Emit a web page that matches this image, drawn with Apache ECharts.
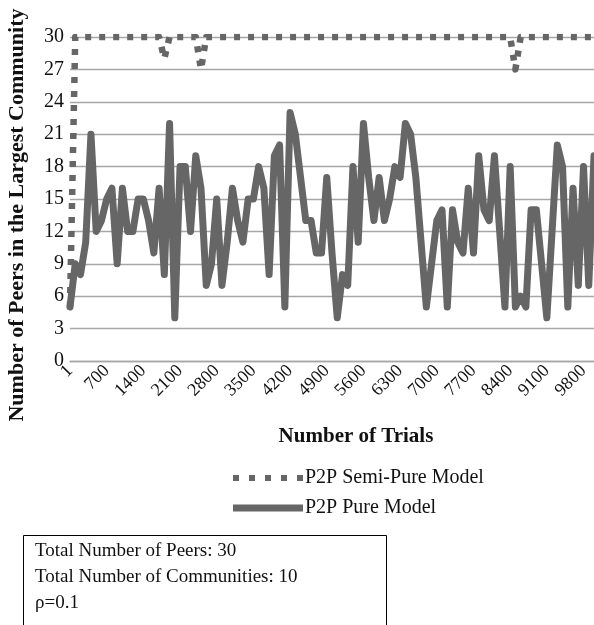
<!DOCTYPE html>
<html><head><meta charset="utf-8">
<script src="https://cdn.jsdelivr.net/npm/echarts@6/dist/echarts.min.js"></script>
<style>html,body{margin:0;padding:0;background:#fff}#c{width:594px;height:625px}</style>
</head><body><div id="c"></div>
<script>
// Number of trials (categories)
const trials = ['1','100','200','300','400','500','600','700','800','900',
  '1000','1100','1200','1300','1400','1500','1600','1700','1800','1900',
  '2000','2100','2200','2300','2400','2500','2600','2700','2800','2900',
  '3000','3100','3200','3300','3400','3500','3600','3700','3800','3900',
  '4000','4100','4200','4300','4400','4500','4600','4700','4800','4900',
  '5000','5100','5200','5300','5400','5500','5600','5700','5800','5900',
  '6000','6100','6200','6300','6400','6500','6600','6700','6800','6900',
  '7000','7100','7200','7300','7400','7500','7600','7700','7800','7900',
  '8000','8100','8200','8300','8400','8500','8600','8700','8800','8900',
  '9000','9100','9200','9300','9400','9500','9600','9700','9800','9900','10000'];

// P2P Semi-Pure Model
const semiPure = [5,30,30,30,30,30,30,30,30,30,
  30,30,30,30,30,30,30,30,28,30,
  30,30,30,30,30,27,30,30,30,30,
  30,30,30,30,30,30,30,30,30,30,
  30,30,30,30,30,30,30,30,30,30,
  30,30,30,30,30,30,30,30,30,30,
  30,30,30,30,30,30,30,30,30,30,
  30,30,30,30,30,30,30,30,30,30,
  30,30,30,30,30,27,30,30,30,30,
  30,30,30,30,30,30,30,30,30,30,30];

// P2P Pure Model
const pure = [5,9,8,11,21,12,13,15,16,9,
  16,12,12,15,15,13,10,16,8,22,
  4,18,18,12,19,16,7,9,15,7,
  11,16,13,11,15,15,18,16,8,19,
  20,5,23,21,17,13,13,10,10,17,
  10,4,8,7,18,11,22,17,13,17,
  13,15,18,17,22,21,17,11,5,9,
  13,14,5,14,11,10,16,10,19,14,
  13,19,12,5,18,5,6,5,14,14,
  9,4,12,20,18,5,16,7,18,7,19];

const seriesNames = ['P2P Semi-Pure Model', 'P2P Pure Model'];
const xTitle = 'Number of Trials';
const yTitle = 'Number of Peers in the Largest Community';
const infoLines = ['Total Number of Peers: 30', 'Total Number of Communities: 10', 'ρ=0.1'];

const SERIF = '"Liberation Serif", "Times New Roman", serif';
const GRAY = '#666666';
const chart = echarts.init(document.getElementById('c'), null, {renderer: 'canvas'});
chart.setOption({
  animation: false,
  backgroundColor: '#fff',
  grid: {left: 70, right: 0, top: 37, bottom: 264, containLabel: false},
  xAxis: {
    type: 'category', data: trials, boundaryGap: false,
    axisLine: {show: true, lineStyle: {color: '#a6a6a6', width: 1.3}},
    axisTick: {show: false},
    axisLabel: {interval: 6, rotate: 45, fontFamily: SERIF, fontSize: 18, color: '#111', margin: 7},
    splitLine: {show: false}
  },
  yAxis: {
    type: 'value', min: 0, max: 30, interval: 3,
    axisLine: {show: false}, axisTick: {show: false},
    axisLabel: {fontFamily: SERIF, fontSize: 20, color: '#111', margin: 6},
    splitLine: {lineStyle: {color: '#a6a6a6', width: 1.3}}
  },
  legend: {
    orient: 'vertical', left: 228, top: 463, itemWidth: 70, itemGap: 10,
    data: [
      {name: seriesNames[0], icon: 'path://M0,0h6v6h-6z M16,0h6v6h-6z M32,0h6v6h-6z M48,0h6v6h-6z M64,0h6v6h-6z',
       itemStyle: {color: GRAY}},
      {name: seriesNames[1], icon: 'rect', itemStyle: {color: GRAY}}
    ],
    itemHeight: 7,
    textStyle: {fontFamily: SERIF, fontSize: 20, color: '#111', padding: [0,0,0,-3]}
  },
  series: [
    {name: seriesNames[0], type: 'line', data: semiPure, symbol: 'none', z: 2,
     lineStyle: {color: GRAY, width: 6.5, type: [6, 8], cap: 'butt', join: 'round'},
     itemStyle: {color: GRAY}},
    {name: seriesNames[1], type: 'line', data: pure, symbol: 'none', z: 3,
     lineStyle: {color: GRAY, width: 7, cap: 'round', join: 'round'},
     itemStyle: {color: GRAY}}
  ],
  graphic: [
    {type: 'text', x: 17, y: 215, rotation: Math.PI / 2,
     style: {text: yTitle, font: 'bold 22px ' + SERIF, fill: '#111', textAlign: 'center', textVerticalAlign: 'middle'}},
    {type: 'text', x: 356, y: 437,
     style: {text: xTitle, font: 'bold 21px ' + SERIF, fill: '#111', textAlign: 'center', textVerticalAlign: 'middle'}},
    {type: 'rect', shape: {x: 23.5, y: 535.5, width: 363, height: 100},
     style: {fill: '#fff', stroke: '#000', lineWidth: 1}},
    {type: 'text', x: 35, y: 551, style: {text: infoLines[0], font: '19px ' + SERIF, fill: '#111', textVerticalAlign: 'middle'}},
    {type: 'text', x: 35, y: 577, style: {text: infoLines[1], font: '19px ' + SERIF, fill: '#111', textVerticalAlign: 'middle'}},
    {type: 'text', x: 35, y: 603, style: {text: infoLines[2], font: '19px ' + SERIF, fill: '#111', textVerticalAlign: 'middle'}}
  ]
});
</script>
</body></html>
